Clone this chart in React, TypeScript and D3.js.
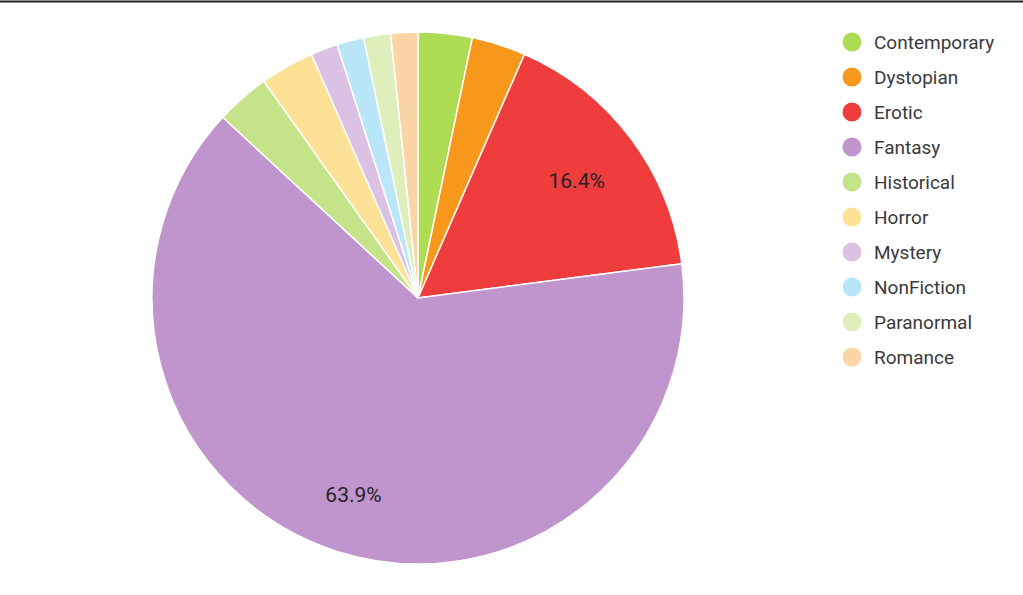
import React from "react";
import * as d3 from "d3";

const categories = ["Contemporary", "Dystopian", "Erotic", "Fantasy", "Historical", "Horror", "Mystery", "NonFiction", "Paranormal", "Romance"];
const counts = [2, 2, 10, 39, 2, 2, 1, 1, 1, 1];
const colors = ["#ADDC52", "#F7981D", "#EF3D3E", "#C094CC", "#C5E389", "#FDE196", "#DBC1E3", "#BAE6F9", "#DFEFBC", "#FCD5A6"];

const W = 1023;
const H = 595;
const CX = 418;
const CY = 298;
const R = 266;

export default function App() {
  const data = categories.map((c, i) => ({ name: c, value: counts[i], color: colors[i] }));
  const total = d3.sum(counts);
  const pie = d3.pie<any>().value((d: any) => d.value).sort(null);
  const arcs = pie(data);
  const arc = d3.arc<any>().innerRadius(0).outerRadius(R);
  const labelArc = d3.arc<any>().innerRadius(R * 0.76).outerRadius(R * 0.76);
  const fmt = d3.format(".1%");

  return (
    <svg width={W} height={H} style={{ position: "absolute", left: 0, top: 0, background: "#fff" }}>
      <rect x={0} y={0} width={W} height={H} fill="#fff" />
      <line x1={0} x2={W} y1={1.5} y2={1.5} stroke="#222" strokeWidth={2} />
      <g transform={`translate(${CX},${CY})`}>
        {arcs.map((a, i) => (
          <path key={i} d={arc(a) as string} fill={a.data.color} stroke="#fff" strokeWidth={1.5} />
        ))}
        {arcs.map((a, i) => {
          const frac = a.data.value / total;
          if (frac < 0.1) return null;
          const [x, y] = labelArc.centroid(a);
          return (
            <text key={"l" + i} x={x - 3} y={y + 4} textAnchor="middle" dominantBaseline="central"
              fontFamily="Roboto, sans-serif" fontSize={21} fill="#222">
              {fmt(frac)}
            </text>
          );
        })}
      </g>
      <g>
        {data.map((d, i) => (
          <g key={d.name} transform={`translate(852,${42 + i * 35})`}>
            <circle r={9.5} fill={d.color} />
            <text x={22} y={0.5} dominantBaseline="central" fontFamily="Roboto, sans-serif" fontSize={19} fill="#3a3a3a">
              {d.name}
            </text>
          </g>
        ))}
      </g>
    </svg>
  );
}
